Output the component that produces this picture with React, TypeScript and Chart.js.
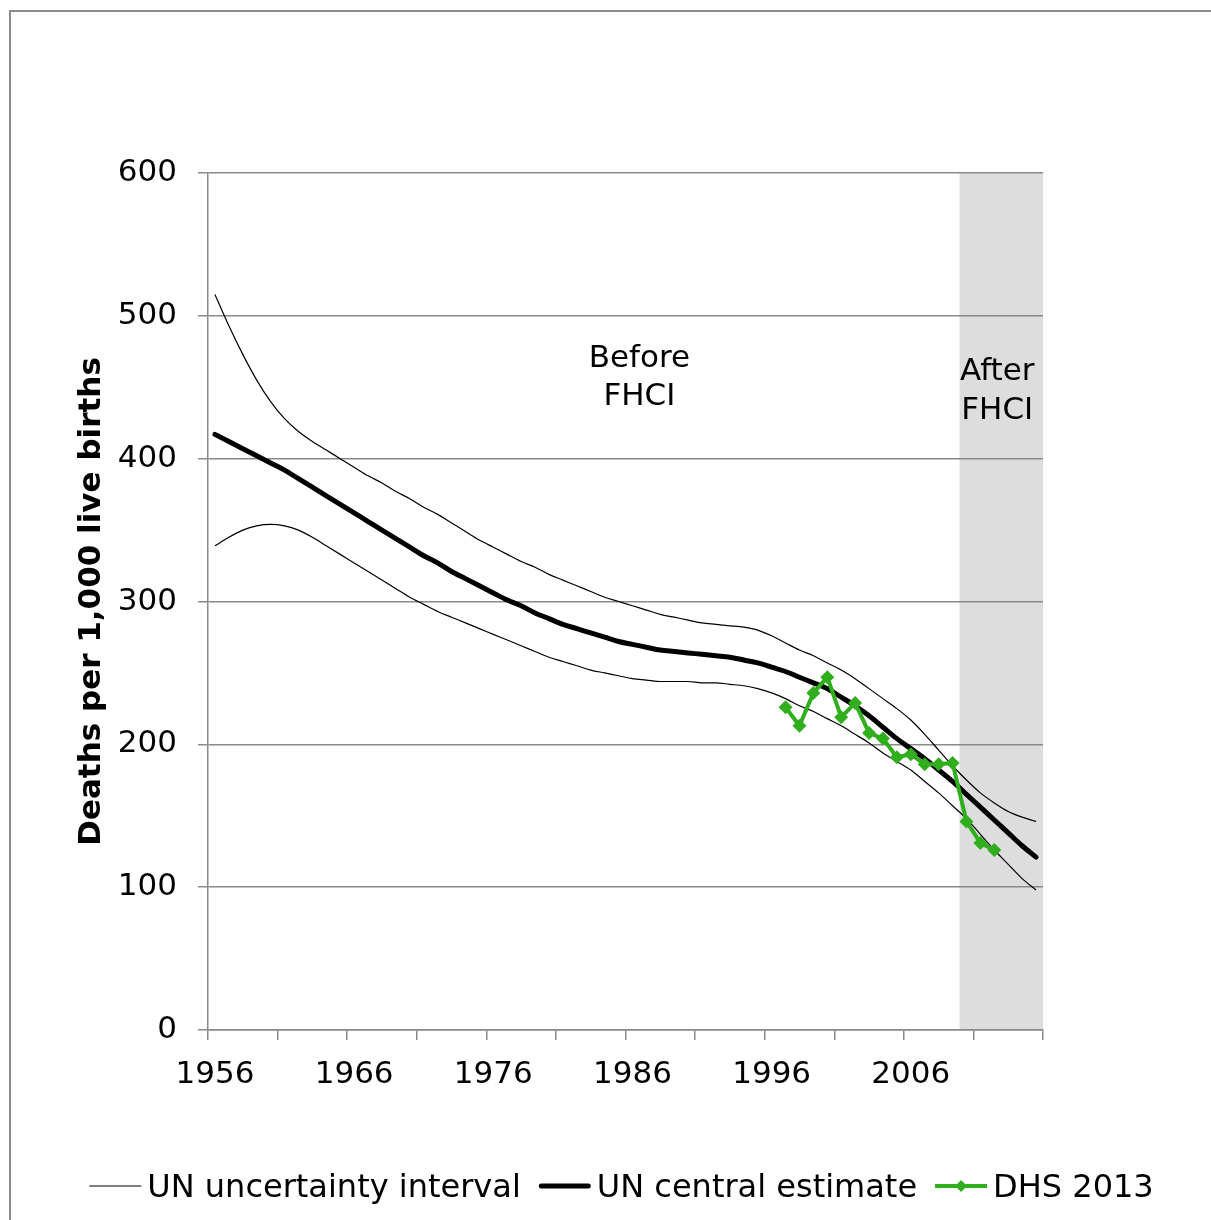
import { useEffect, useRef } from 'react';
import { Chart, registerables } from 'chart.js';

Chart.register(...registerables);

const FONT = "'DejaVu Sans', Verdana, sans-serif";

const years = [
  '1956', '1957', '1958', '1959', '1960', '1961', '1962', '1963', '1964', '1965',
  '1966', '1967', '1968', '1969', '1970', '1971', '1972', '1973', '1974', '1975',
  '1976', '1977', '1978', '1979', '1980', '1981', '1982', '1983', '1984', '1985',
  '1986', '1987', '1988', '1989', '1990', '1991', '1992', '1993', '1994', '1995',
  '1996', '1997', '1998', '1999', '2000', '2001', '2002', '2003', '2004', '2005',
  '2006', '2007', '2008', '2009', '2010', '2011', '2012', '2013', '2014', '2015',
];

const unUpper = [
  515, 493, 473, 455, 440, 428, 419, 412, 406, 400,
  394, 388, 383, 377, 372, 366, 361, 355, 349, 343,
  338, 333, 328, 324, 319, 315, 311, 307, 303, 300,
  297, 294, 291, 289, 287, 285, 284, 283, 282, 280,
  276, 271, 266, 262, 257, 252, 246, 239, 232, 225,
  217, 207, 196, 185, 175, 166, 159, 153, 149, 146,
];

const unCentral = [
  417, 412, 407, 402, 397, 392, 386, 380, 374, 368,
  362, 356, 350, 344, 338, 332, 327, 321, 316, 311,
  306, 301, 297, 292, 288, 284, 281, 278, 275, 272,
  270, 268, 266, 265, 264, 263, 262, 261, 259, 257,
  254, 251, 247, 243, 239, 233, 227, 220, 212, 204,
  197, 190, 182, 174, 165, 156, 147, 138, 129, 121,
];

const unLower = [
  339, 345, 350, 353, 354, 353, 350, 345, 339, 333,
  327, 321, 315, 309, 303, 298, 293, 289, 285, 281,
  277, 273, 269, 265, 261, 258, 255, 252, 250, 248,
  246, 245, 244, 244, 244, 243, 243, 242, 241, 239,
  236, 232, 227, 223, 218, 213, 207, 201, 194, 188,
  182, 174, 166, 157, 148, 137, 126, 116, 106, 98,
];

const dhsYears = [
  '1997', '1998', '1999', '2000', '2001', '2002', '2003', '2004',
  '2005', '2006', '2007', '2008', '2009', '2010', '2011', '2012',
];
const dhsValues = [226, 213, 236, 247, 219, 229, 208, 204, 191, 193, 186, 186, 187, 146, 131, 126];

const yTicks = [0, 100, 200, 300, 400, 500, 600];
const shadeStartYear = '2010';
const beforeText = ['Before', 'FHCI'];
const afterText = ['After', 'FHCI'];
const legendLabels = ['UN uncertainty interval', 'UN central estimate', 'DHS 2013'];

const GREEN = '#30ae1d';
const GRID = '#8a8a8a';

export default function App() {
  const ref = useRef<HTMLCanvasElement | null>(null);

  useEffect(() => {
    const canvas = ref.current;
    if (!canvas) return;

    const dhsData = years.map((y) => {
      const k = dhsYears.indexOf(y);
      return k >= 0 ? dhsValues[k] : null;
    });

    const framePlugin = {
      id: 'frame',
      beforeDraw(chart: any) {
        const { ctx, scales, chartArea } = chart;
        ctx.save();
        ctx.strokeStyle = '#8c8c8c';
        ctx.lineWidth = 2;
        ctx.strokeRect(10, 11, 1400, 1400);
        const xs = scales.x;
        const idx = years.indexOf(shadeStartYear);
        const half = (xs.getPixelForValue(1) - xs.getPixelForValue(0)) / 2;
        const x0 = xs.getPixelForValue(idx) - half;
        ctx.fillStyle = '#dddddd';
        ctx.fillRect(x0, chartArea.top, chartArea.right - x0, chartArea.bottom - chartArea.top);
        ctx.restore();
      },
    };

    const textPlugin = {
      id: 'texts',
      afterDraw(chart: any) {
        const { ctx, scales, chartArea } = chart;
        const xs = scales.x;
        const ys = scales.y;
        const half = (xs.getPixelForValue(1) - xs.getPixelForValue(0)) / 2;
        ctx.save();
        ctx.fillStyle = '#000';
        ctx.font = `31px ${FONT}`;
        ctx.textAlign = 'center';
        ctx.textBaseline = 'alphabetic';
        const bx = xs.getPixelForValue(years.indexOf('1987')) - half;
        const by = ys.getPixelForValue(464);
        beforeText.forEach((t, i) => ctx.fillText(t, bx, by + i * 38));
        const sx0 = xs.getPixelForValue(years.indexOf(shadeStartYear)) - half;
        const ax = (sx0 + chartArea.right) / 2 - 4;
        const ay = ys.getPixelForValue(455);
        afterText.forEach((t, i) => ctx.fillText(t, ax, ay + i * 39));

        ctx.font = `32px ${FONT}`;
        ctx.textAlign = 'left';
        const lineLen = 52;
        const gapText = 6;
        const gapItem = 18;
        const widths = legendLabels.map((l) => ctx.measureText(l).width);
        const total = widths.reduce((a, w) => a + lineLen + gapText + w, 0) + gapItem * (legendLabels.length - 1);
        let x = 621.5 - total / 2;
        const ly = 1186;
        const styles = [
          { color: '#000', width: 1.2, marker: false },
          { color: '#000', width: 5, marker: false },
          { color: GREEN, width: 4, marker: true },
        ];
        legendLabels.forEach((label, i) => {
          const s = styles[i];
          ctx.strokeStyle = s.color;
          ctx.lineWidth = s.width;
          ctx.lineCap = i === 1 ? 'round' : 'butt';
          ctx.beginPath();
          ctx.moveTo(x + (i === 1 ? 2.5 : 0), ly);
          ctx.lineTo(x + lineLen - (i === 1 ? 2.5 : 0), ly);
          ctx.stroke();
          if (s.marker) {
            const cx = x + lineLen / 2;
            ctx.fillStyle = GREEN;
            ctx.beginPath();
            ctx.moveTo(cx - 6, ly);
            ctx.lineTo(cx, ly - 6);
            ctx.lineTo(cx + 6, ly);
            ctx.lineTo(cx, ly + 6);
            ctx.closePath();
            ctx.fill();
          }
          ctx.fillStyle = '#000';
          ctx.fillText(label, x + lineLen + gapText, 1197);
          x += lineLen + gapText + widths[i] + gapItem;
        });
        ctx.restore();
      },
    };

    const chart = new Chart(canvas, {
      type: 'line',
      data: {
        labels: years,
        datasets: [
          {
            label: 'DHS 2013',
            data: dhsData,
            borderColor: GREEN,
            backgroundColor: GREEN,
            borderWidth: 4,
            pointStyle: 'rectRot',
            pointRadius: 7,
            pointBorderWidth: 0,
            pointBackgroundColor: GREEN,
            tension: 0,
            spanGaps: false,
            order: 0,
          },
          {
            label: 'UN central estimate',
            data: unCentral,
            borderColor: '#000',
            borderWidth: 5,
            pointRadius: 0,
            cubicInterpolationMode: 'monotone',
            borderCapStyle: 'round',
            borderJoinStyle: 'round',
            order: 1,
          },
          {
            label: 'UN uncertainty interval',
            data: unUpper,
            borderColor: '#000',
            borderWidth: 1.2,
            pointRadius: 0,
            cubicInterpolationMode: 'monotone',
            order: 2,
          },
          {
            label: 'UN uncertainty interval (lower)',
            data: unLower,
            borderColor: '#000',
            borderWidth: 1.2,
            pointRadius: 0,
            cubicInterpolationMode: 'monotone',
            order: 2,
          },
        ],
      },
      options: {
        responsive: false,
        animation: false,
        devicePixelRatio: 1,
        layout: { padding: { left: 0, top: 173, right: 168, bottom: 90 } },
        plugins: {
          legend: { display: false },
          title: { display: false },
          tooltip: { enabled: false },
        },
        scales: {
          x: {
            type: 'category',
            offset: true,
            grid: {
              offset: true,
              drawOnChartArea: false,
              drawTicks: true,
              tickLength: 10,
              lineWidth: 1.5,
              color: (c: any) => (c.type !== 'tick' || c.index % 5 === 0 ? GRID : 'rgba(0,0,0,0)'),
            },
            border: { display: true, color: GRID, width: 1.5 },
            ticks: {
              autoSkip: false,
              maxRotation: 0,
              minRotation: 0,
              padding: 16,
              color: '#000',
              font: { family: FONT, size: 31 },
              callback: (_v: any, i: number) => (i % 10 === 0 ? years[i] : ''),
            },
            afterFit: (s: any) => {
              s.height = 100;
            },
          },
          y: {
            type: 'linear',
            min: yTicks[0],
            max: yTicks[yTicks.length - 1],
            afterBuildTicks: (s: any) => {
              s.ticks = yTicks.map((v) => ({ value: v }));
            },
            grid: { color: GRID, lineWidth: 1.5, tickLength: 10, drawTicks: true },
            border: { display: true, color: GRID, width: 1.5 },
            ticks: {
              padding: 21,
              color: '#000',
              font: { family: FONT, size: 31 },
            },
            title: {
              display: true,
              text: 'Deaths per 1,000 live births',
              color: '#000',
              font: { family: FONT, size: 31, weight: 'bold' },
              padding: { top: 73, bottom: 0 },
            },
            afterFit: (s: any) => {
              s.width = 208;
            },
          },
        },
      },
      plugins: [framePlugin, textPlugin],
    } as any);

    return () => chart.destroy();
  }, []);

  return (
    <div style={{ position: 'absolute', left: 0, top: 0, width: 1211, height: 1220, background: '#fff' }}>
      <canvas ref={ref} width={1211} height={1220} style={{ width: 1211, height: 1220, display: 'block' }} />
    </div>
  );
}
